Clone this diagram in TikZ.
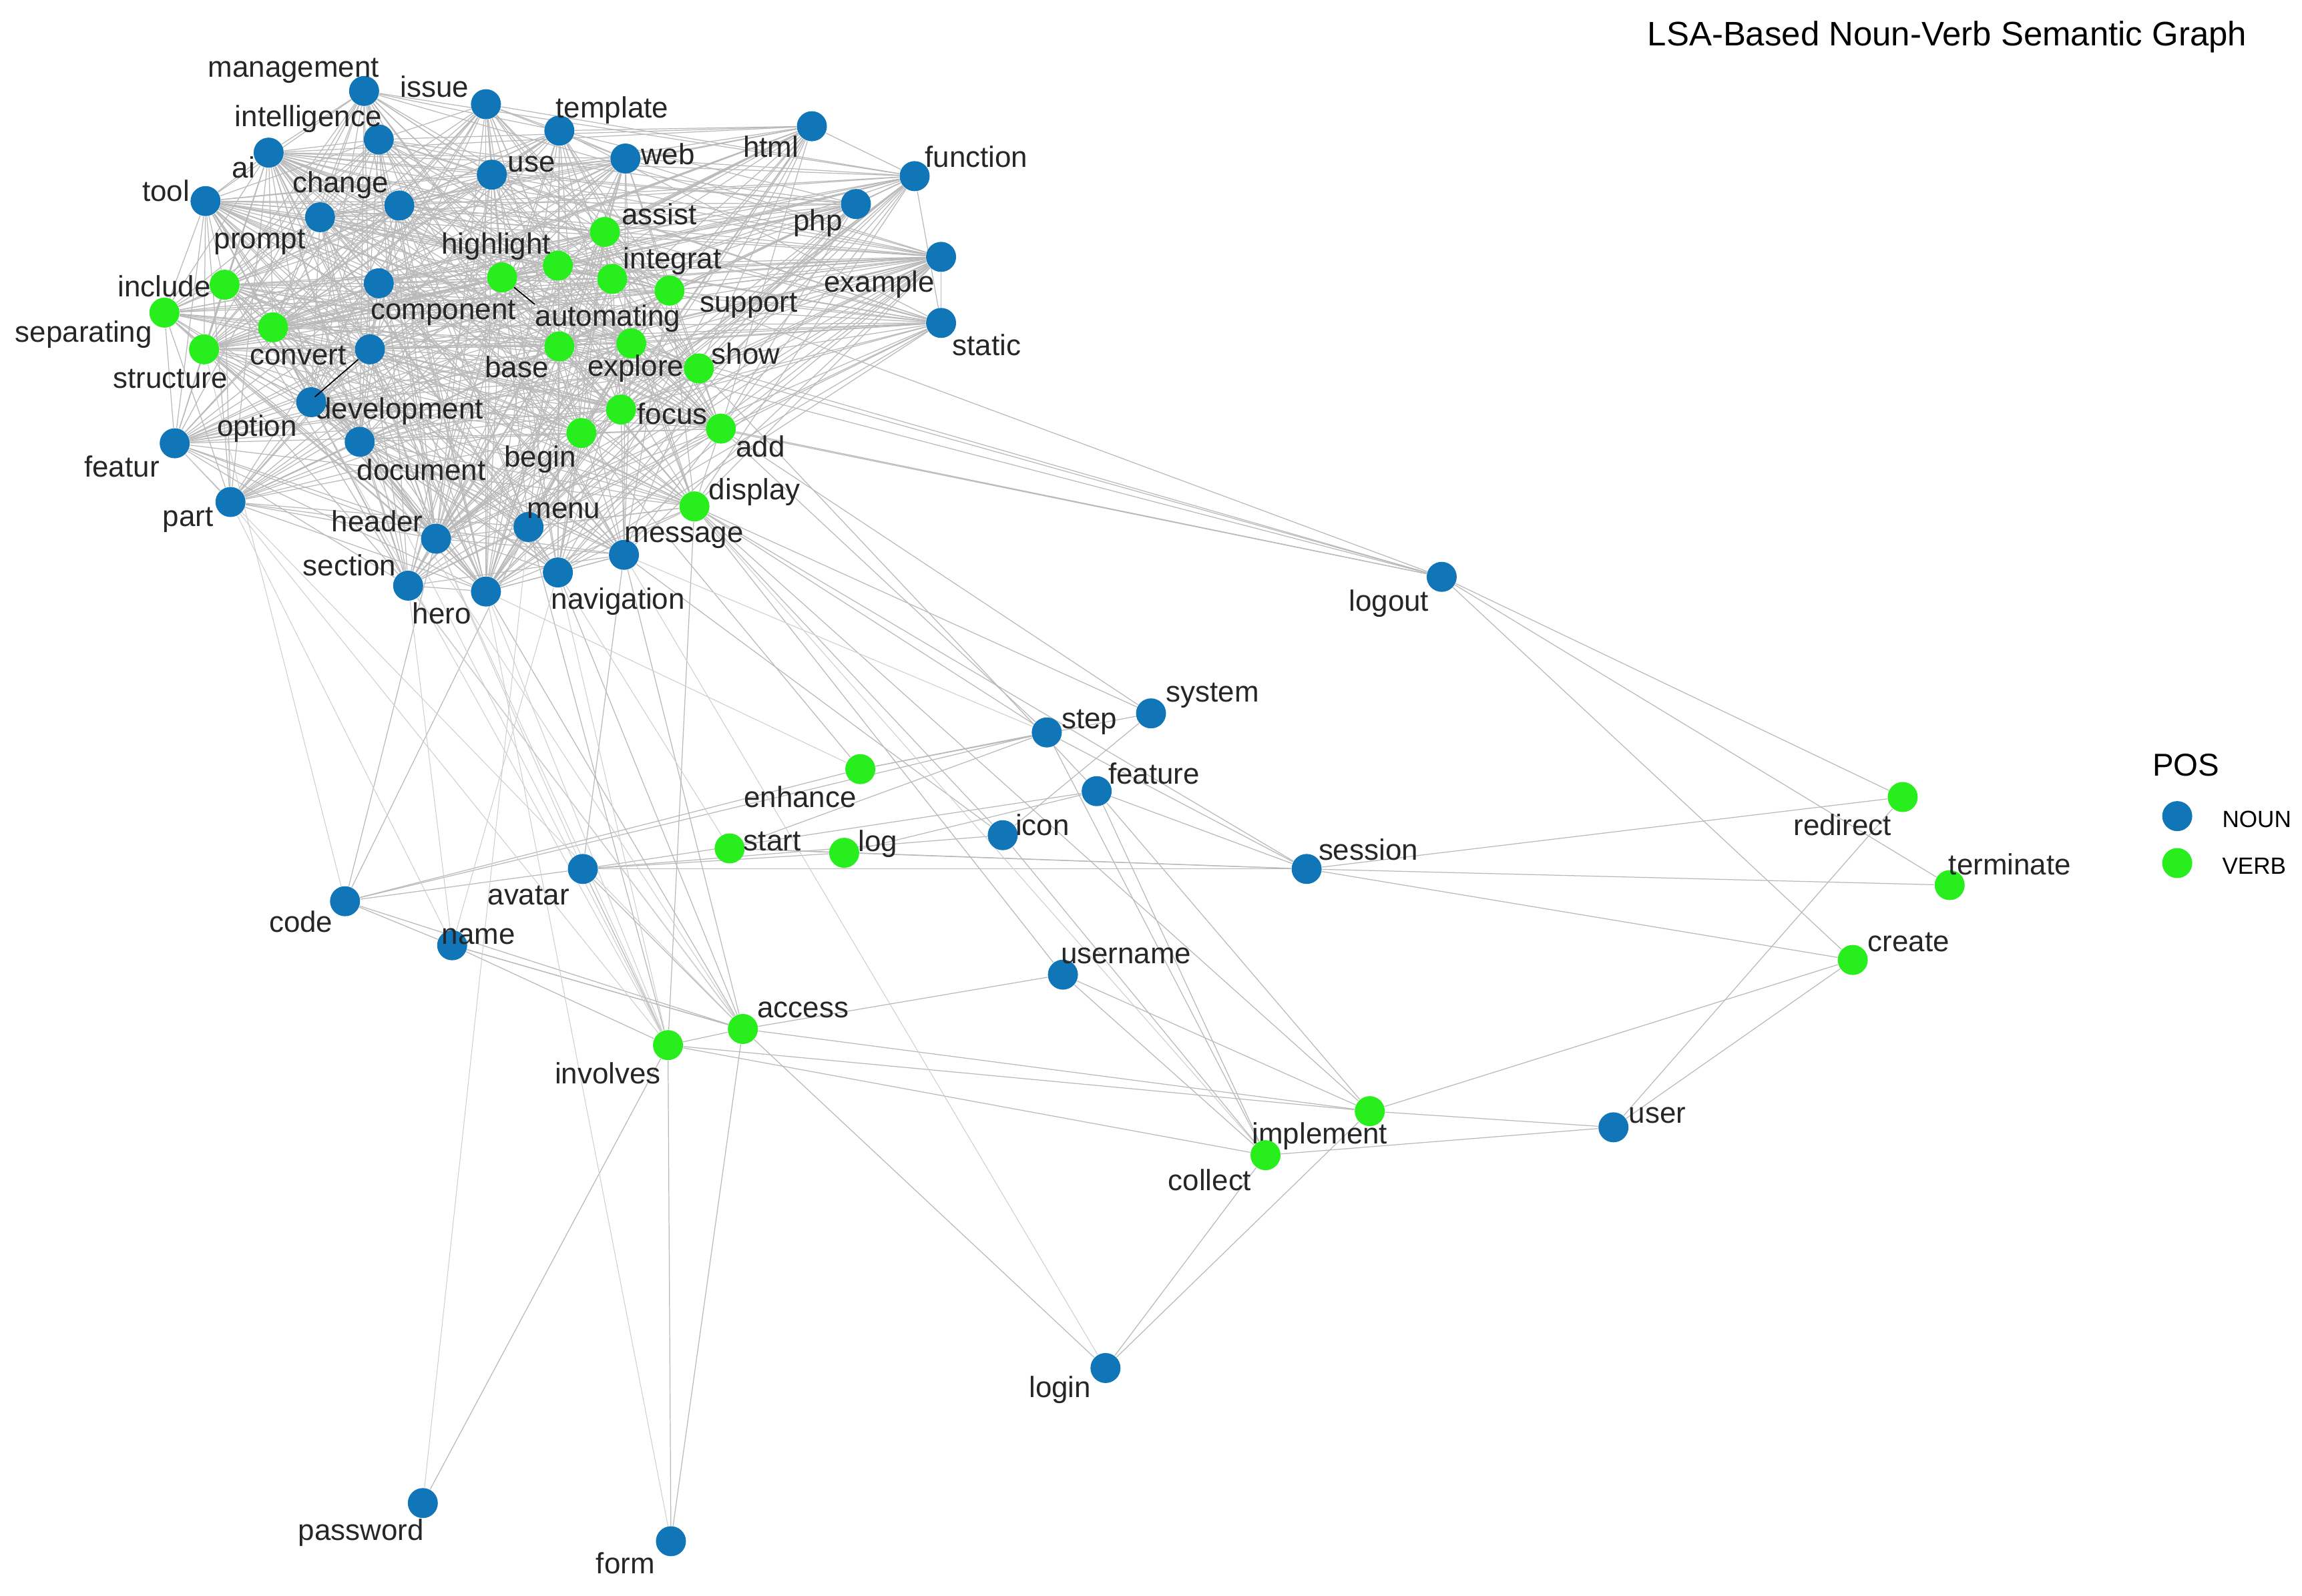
\documentclass[tikz,border=0pt]{standalone}
\usepackage{fontspec}
\setmainfont{Liberation Sans}
\usetikzlibrary{backgrounds}
\definecolor{noun}{RGB}{16,118,184}
\definecolor{verb}{RGB}{40,238,30}
\definecolor{edge}{RGB}{185,185,185}
\begin{document}
\begin{tikzpicture}[x=0.022cm,y=-0.022cm,
  n/.style={circle,fill=noun,minimum size=0.45cm,inner sep=0pt},
  v/.style={circle,fill=verb,minimum size=0.45cm,inner sep=0pt},
  lb/.style={font=\fontsize{12.5}{14}\selectfont,inner sep=0pt,text=black!85},
  ed/.style={draw=edge,line width=0.35pt},
  el/.style={draw=edge!70,line width=0.3pt}]
\useasboundingbox (0,0) rectangle (1568,1087);
\node[font=\fontsize{14.5}{17}\selectfont,anchor=east] (title) at (1536,25) {LSA-Based Noun-Verb Semantic Graph};
% cluster nodes
\foreach \nm/\t/\x/\y/\lx/\ly in {
management/n/248/62/200/48, issue/n/331/71/296/59, intelligence/n/258/95/210/81,
template/n/381/89/417/75, ai/n/183/104/166/114, web/n/426/108/455/105,
html/n/553/86/525/100, use/n/335/119/362/112, function/n/623/120/665/107,
tool/n/140/137/113/130, change/n/272/140/232/126, php/n/583/139/557/152,
prompt/n/218/148/177/165, assist/v/412/158/449/146, example/n/641/175/599/194,
highlight/v/380/181/338/168, integrat/v/417/190/458/178, support/v/456/198/510/208,
automating/v/342/189/414/217, include/v/153/194/112/195, component/n/258/193/302/213,
separating/v/112/213/57/228, convert/v/186/223/203/242, base/v/381/236/352/250,
explore/v/430/234/433/251, show/v/476/251/508/241, static/n/641/220/672/235,
structure/v/139/238/116/258, development/n/252/238/272/280, option/n/212/274/175/292,
focus/v/423/279/458/282, begin/v/396/295/368/313, add/v/491/292/518/304,
featur/n/119/302/83/318, document/n/245/301/287/320, part/n/157/342/128/354,
display/v/473/345/514/335, header/n/297/367/257/355, menu/n/360/359/384/348,
message/n/425/378/466/366, navigation/n/380/390/421/410, section/n/278/399/238/385,
hero/n/331/403/301/418,
logout/n/982/393/946/411, system/n/784/486/826/474, step/n/713/499/742/492,
enhance/v/586/524/545/543, feature/n/747/539/786/527, icon/n/683/569/710/562,
start/v/497/578/526/573, log/v/575/581/598/575, avatar/n/397/592/360/610,
session/n/890/592/932/579, redirect/v/1296/543/1255/562, terminate/v/1328/603/1369/589,
code/n/235/614/205/628, name/n/308/644/326/638, username/n/724/664/767/651,
create/v/1262/654/1300/642, access/v/506/701/547/688, involves/v/455/712/414/731,
implement/v/933/757/899/774, user/n/1099/768/1129/760, collect/v/862/787/824/804,
login/n/753/932/722/947, password/n/288/1024/246/1044, form/n/457/1050/426/1065}
{\node[\t] (\nm) at (\x,\y) {};
 \node[lb] (l-\nm) at (\lx,\ly) {\nm};}
\draw[black,line width=0.5pt] (automating) -- (l-automating.north west);
\draw[black,line width=0.5pt] (development) -- (l-development.north west);
% legend
\node[font=\fontsize{13.5}{16}\selectfont] (pos) at (1489,521) {POS};
\node[n] (ln) at (1483,556) {};
\node[v] (lv) at (1483,588) {};
\node[font=\fontsize{10}{12}\selectfont,anchor=west] (lnt) at (1508,558) {NOUN};
\node[font=\fontsize{10}{12}\selectfont,anchor=west] (lvt) at (1508,590) {VERB};
\begin{scope}[on background layer]
\foreach \a [count=\i] in {management,issue,intelligence,template,ai,web,html,use,function,tool,change,php,prompt,assist,example,highlight,integrat,support,automating,include,component,separating,convert,base,explore,show,static,structure,development,option,focus,begin,add,featur,document,part,display,header,menu,message,navigation,section,hero}{
 \foreach \b [count=\j] in {management,issue,intelligence,template,ai,web,html,use,function,tool,change,php,prompt,assist,example,highlight,integrat,support,automating,include,component,separating,convert,base,explore,show,static,structure,development,option,focus,begin,add,featur,document,part,display,header,menu,message,navigation,section,hero}{
  \pgfmathtruncatemacro\k{mod(\i*7+\j*5+\i*\j,5)}
  \ifnum\j>\i \ifnum\k<3 \draw[ed] (\a) -- (\b); \fi\fi
 }}
\foreach \a/\b in {logout/focus,logout/add,logout/show,logout/explore,logout/support,logout/base,
logout/redirect,logout/create,logout/terminate,redirect/session,redirect/user,session/terminate,
session/create,session/step,session/display,session/avatar,session/start,session/log,create/user,
create/implement,user/implement,user/collect,username/access,username/implement,username/collect,
access/name,access/code,access/login,access/avatar,access/involves,involves/password,involves/form,
access/form,collect/login,implement/login,name/code,code/avatar,code/enhance,code/step,avatar/log,
avatar/icon,avatar/feature,start/step,enhance/step,enhance/system,log/feature,icon/system,
step/display,system/display,feature/implement,feature/collect,icon/collect,step/collect,
display/implement,message/avatar,display/involves,navigation/access,hero/access,begin/enhance,
menu/code,message/access,display/username,add/system,add/step,show/feature,message/icon,
name/involves,name/access,access/implement,involves/implement,involves/collect,start/log,
feature/session,avatar/involves,menu/involves,header/code,section/access,display/icon}
{\draw[ed] (\a) -- (\b);}
\foreach \a/\b in {hero/form,section/access,header/avatar,part/name,document/access,option/involves,
navigation/name,hero/involves,menu/password,message/login,display/collect,header/involves,
section/name,navigation/involves,structure/code,featur/access,hero/enhance,navigation/start,
document/involves,message/step,part/involves}
{\draw[el] (\a) -- (\b);}
\end{scope}
\end{tikzpicture}
\end{document}
